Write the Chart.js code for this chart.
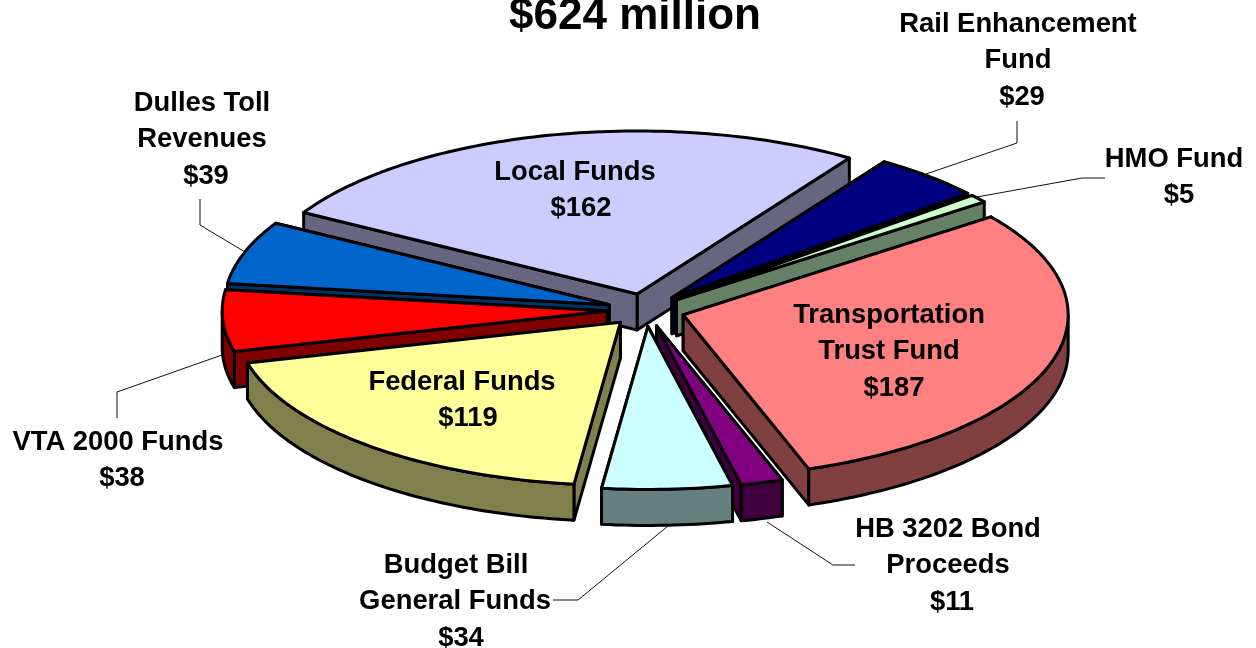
<!DOCTYPE html>
<html>
<head>
<meta charset="utf-8">
<title>$624 million</title>
<script src="https://cdn.jsdelivr.net/npm/chart.js@4/dist/chart.umd.min.js"></script>
<style>
    html, body { margin: 0; padding: 0; background: #fff; overflow: hidden; }
    canvas { display: block; }
</style>
</head>
<body>
<canvas id="funding-chart" width="1256" height="648"></canvas>
<script>
    var chartTitle = '$624 million';
    var categories = ['Local Funds', 'Rail Enhancement Fund', 'HMO Fund', 'Transportation Trust Fund',
        'HB 3202 Bond Proceeds', 'Budget Bill General Funds', 'Federal Funds', 'VTA 2000 Funds', 'Dulles Toll Revenues'];
    var values = [162, 29, 5, 187, 11, 34, 119, 38, 39];
    var topColors = ['#CCCCFF', '#000080', '#CCFFCC', '#FF8080', '#800080', '#CCFFFF', '#FFFF99', '#FF0000', '#0066CC'];
    var wallColors = ['#666680', '#000040', '#668066', '#804040', '#400040', '#668080', '#80804D', '#800000', '#003366'];

    // how the flat pie is laid over on the page
    var view = { cx: 646, cy: 310, rx: 385, ry: 163, depth: 36 };

    // label text broken the way the picture breaks it, each with its line centres
    var labelLayout = [
        { lines: ['Local Funds'], x: [575, 581], y: 172 },
        { lines: ['Rail Enhancement', 'Fund'], x: [1018, 1018, 1022], y: 24 },
        { lines: ['HMO Fund'], x: [1174, 1179], y: 159 },
        { lines: ['Transportation', 'Trust Fund'], x: [889, 889, 894], y: 315 },
        { lines: ['HB 3202 Bond', 'Proceeds'], x: [948, 948, 952], y: 529 },
        { lines: ['Budget Bill', 'General Funds'], x: [456, 455, 461], y: 565 },
        { lines: ['Federal Funds'], x: [462, 468], y: 382 },
        { lines: ['VTA 2000 Funds'], x: [118, 122], y: 442 },
        { lines: ['Dulles Toll', 'Revenues'], x: [202, 202, 206], y: 103 }
    ];
    var lineStep = 36.6;

    var leaders = [
        [[926, 174], [1017, 143], [1017, 121]],
        [[977, 197], [1082, 178], [1105, 178]],
        [[767, 522], [833, 565], [855, 565]],
        [[668, 526], [578, 600], [553, 600]],
        [[222, 355], [117, 392], [117, 418]],
        [[245, 252], [200, 225], [200, 199]]
    ];

    function tracePath(ctx, pts) {
        ctx.beginPath();
        ctx.moveTo(pts[0][0], pts[0][1]);
        for (var i = 1; i < pts.length; i++) {
            ctx.lineTo(pts[i][0], pts[i][1]);
        }
        ctx.closePath();
    }

    function paintShape(ctx, pts, color, lineWidth) {
        tracePath(ctx, pts);
        ctx.fillStyle = color;
        ctx.fill();
        ctx.strokeStyle = '#000';
        ctx.lineWidth = lineWidth;
        ctx.lineJoin = 'round';
        ctx.stroke();
    }

    // lays the arc element of the pie over: tip and rim in page pixels
    function sliceGeometry(arc) {
        var p = arc.getProps(['startAngle', 'endAngle', 'outerRadius']);
        var mid = (p.startAngle + p.endAngle) / 2;
        var shift = arc.options.offset / p.outerRadius;
        var tip = [view.cx + view.rx * shift * Math.cos(mid), view.cy + view.ry * shift * Math.sin(mid)];
        return { tip: tip, start: p.startAngle, end: p.endAngle };
    }

    function rimPoint(geo, angle, down) {
        return [geo.tip[0] + view.rx * Math.cos(angle), geo.tip[1] + view.ry * Math.sin(angle) + down];
    }

    function rimRun(geo, from, to, down) {
        var pts = [];
        var steps = Math.max(2, Math.ceil((to - from) / 0.02));
        for (var i = 0; i <= steps; i++) {
            pts.push(rimPoint(geo, from + (to - from) * i / steps, down));
        }
        return pts;
    }

    var tiltedPie = {
        id: 'tiltedPie',
        beforeDatasetsDraw: function (chart) {
            var ctx = chart.ctx;
            var arcs = chart.getDatasetMeta(0).data;
            var order = arcs.map(function (arc, i) {
                return { i: i, geo: sliceGeometry(arc), width: arc.options.borderWidth };
            }).sort(function (a, b) {
                return a.geo.tip[1] - b.geo.tip[1];
            });

            order.forEach(function (s) {
                var geo = s.geo;
                var wall = wallColors[s.i];
                var d = view.depth;
                var tip2 = [geo.tip[0], geo.tip[1] + d];

                // the two cut faces, the one further back first
                [geo.start, geo.end].sort(function (a, b) {
                    return Math.sin(a) - Math.sin(b);
                }).forEach(function (angle) {
                    paintShape(ctx, [geo.tip, rimPoint(geo, angle, 0), rimPoint(geo, angle, d), tip2], wall, s.width);
                });

                // rim wall, only where it faces the viewer (sin > 0)
                [[geo.start, geo.end], [geo.start - 2 * Math.PI, geo.end - 2 * Math.PI]].forEach(function (r) {
                    var from = Math.max(r[0], 0);
                    var to = Math.min(r[1], Math.PI);
                    if (to > from) {
                        paintShape(ctx, rimRun(geo, from, to, 0).concat(rimRun(geo, from, to, d).reverse()), wall, s.width);
                    }
                });

                // top face
                paintShape(ctx, [geo.tip].concat(rimRun(geo, geo.start, geo.end, 0)), topColors[s.i], s.width);
            });
            return false;
        },
        afterDraw: function (chart) {
            var ctx = chart.ctx;
            ctx.save();
            ctx.strokeStyle = '#111';
            ctx.lineWidth = 1;
            leaders.forEach(function (pts) {
                ctx.beginPath();
                ctx.moveTo(pts[0][0], pts[0][1]);
                for (var i = 1; i < pts.length; i++) {
                    ctx.lineTo(pts[i][0], pts[i][1]);
                }
                ctx.stroke();
            });

            ctx.fillStyle = '#000';
            ctx.textAlign = 'center';
            ctx.textBaseline = 'middle';
            ctx.font = 'bold 27.4px "Liberation Sans"';
            labelLayout.forEach(function (lab, i) {
                var texts = lab.lines.concat('$' + values[i]);
                texts.forEach(function (t, n) {
                    ctx.fillText(t, lab.x[n], lab.y + n * lineStep);
                });
            });
            ctx.font = 'bold 44px "Liberation Sans"';
            ctx.fillText(chartTitle, 635, 17);
            ctx.restore();
        }
    };

    new Chart(document.getElementById('funding-chart').getContext('2d'), {
        type: 'pie',
        data: {
            labels: categories,
            datasets: [{
                data: values,
                backgroundColor: topColors,
                borderColor: '#000',
                borderWidth: 3,
                hoverOffset: 0,
                offset: 31
            }]
        },
        options: {
            responsive: false,
            animation: false,
            rotation: -60,
            plugins: {
                legend: { display: false },
                tooltip: { enabled: false }
            }
        },
        plugins: [tiltedPie]
    });
</script>
</body>
</html>
